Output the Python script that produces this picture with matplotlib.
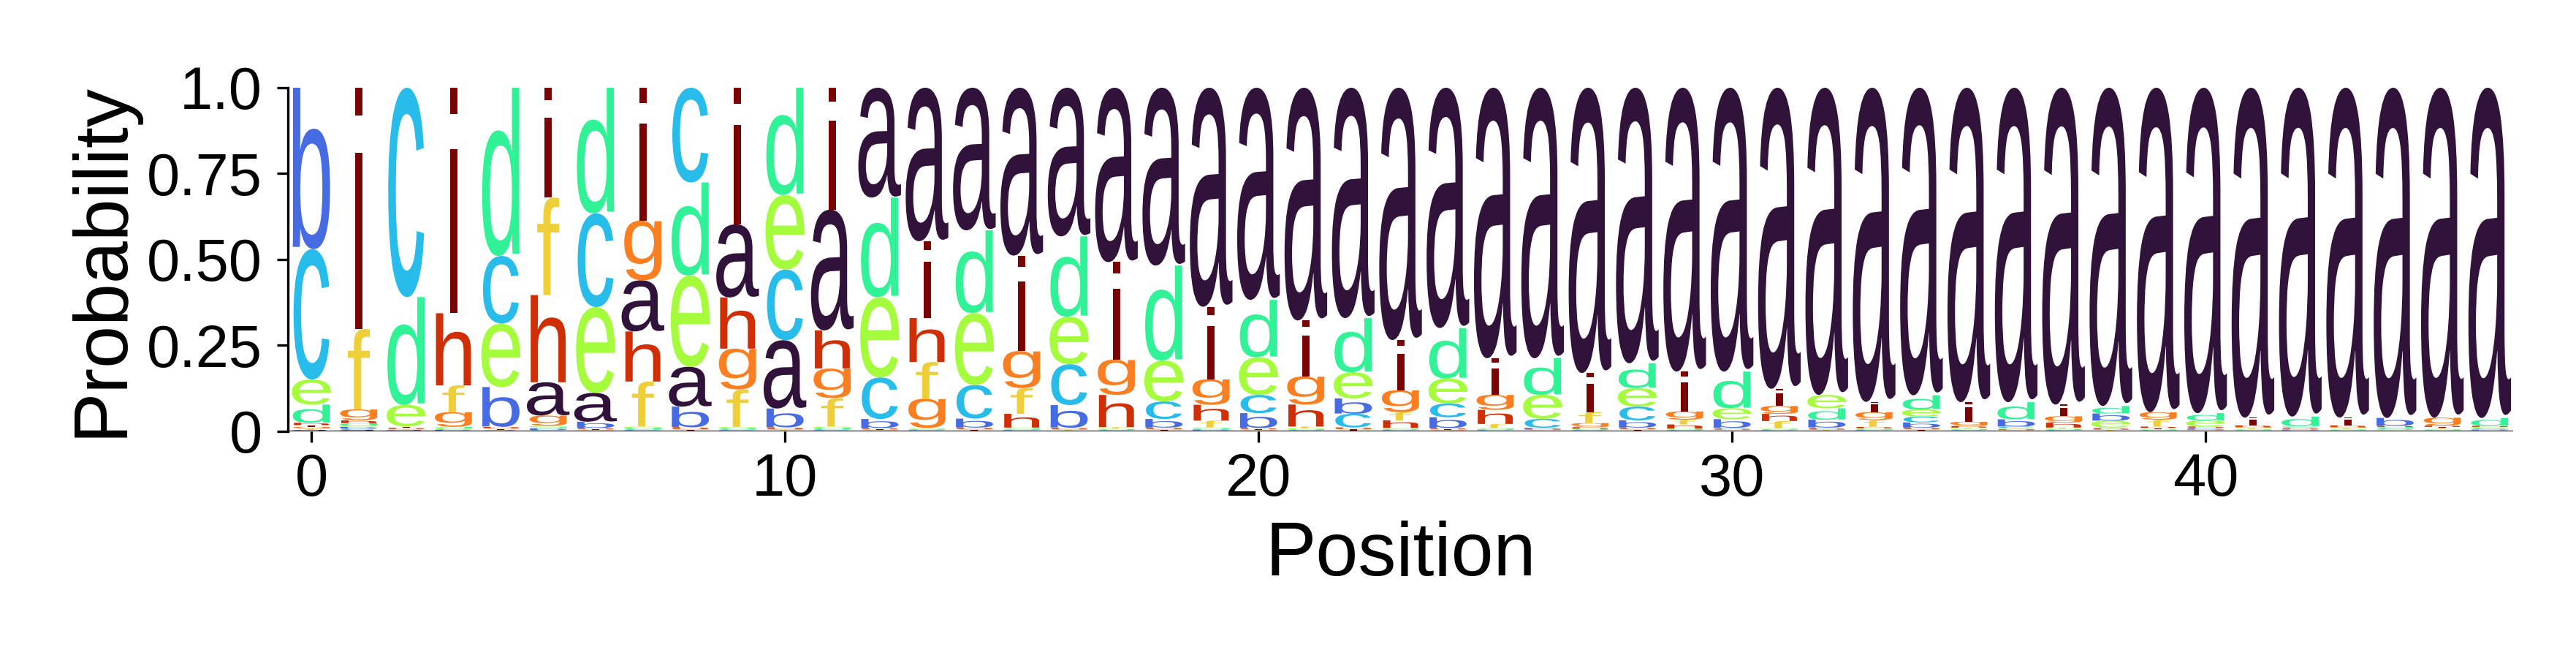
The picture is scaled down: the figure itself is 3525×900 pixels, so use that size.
import numpy as np
import matplotlib
matplotlib.use("Agg")
import matplotlib.pyplot as plt
from matplotlib.textpath import TextPath
from matplotlib.font_manager import FontProperties
from matplotlib.patches import PathPatch
from matplotlib.transforms import Affine2D

plt.rcParams["font.family"] = ["Liberation Sans", "DejaVu Sans"]

letters = list("abcdefghi")
positions = np.arange(47)

# probability of each letter per position
prob_a = [.003, .003, .0015, .001, .002, .097, .084, .149, .116, .213, .199, .352, .320, .447, .4155, .489,
          .433, .508, .518, .638, .618, .678, .671, .735, .700, .788, .788, .831, .8026, .827, .827, .877,
          .895, .915, .896, .916, .916, .923, .927, .945, .948, .961, .958, .961, .962, .961, .962]
prob_b = [.470, .005, .001, .002, .116, .004, .018, .002, .060, .002, .055, .002, .026, .002, .026, .002,
          .066, .001, .025, .0024, .043, .001, .0447, .002, .031, .0015, .003, .001, .021, .001, .025, .002,
          .023, .002, .015, .001, .021, .001, .021, .001, .003, .001, .002, .001, .023, .001, .002]
prob_c = [.380, .004, .610, .002, .197, .003, .273, .003, .276, .003, .206, .003, .121, .002, .098, .002,
          .119, .002, .051, .002, .053, .002, .040, .002, .040, .002, .026, .002, .040, .002, .003, .002,
          .003, .002, .017, .002, .004, .002, .003, .001, .003, .001, .003, .001, .003, .001, .003]
prob_d = [.053, .006, .314, .004, .490, .004, .366, .004, .271, .003, .3125, .004, .290, .002, .241, .003,
          .234, .002, .277, .003, .167, .002, .158, .002, .147, .003, .1065, .002, .0724, .002, .1065, .002,
          .033, .002, .041, .002, .050, .002, .022, .002, .021, .002, .028, .002, .003, .002, .023]
prob_e = [.073, .005, .0625, .003, .185, .004, .250, .004, .266, .004, .217, .004, .234, .003, .2095, .003,
          .1385, .002, .119, .003, .110, .003, .076, .003, .073, .003, .070, .002, .054, .002, .032, .002,
          .039, .002, .021, .002, .003, .002, .020, .002, .018, .002, .003, .002, .002, .002, .003]
prob_f = [.004, .234, .002, .078, .002, .284, .002, .131, .002, .109, .002, .083, .002, .107, .002, .075,
          .002, .004, .002, .020, .002, .005, .002, .024, .002, .011, .001, .032, .002, .014, .001, .021,
          .002, .020, .002, .003, .001, .003, .002, .020, .001, .003, .001, .003, .001, .003, .001]
prob_g = [.005, .032, .002, .043, .003, .030, .002, .174, .003, .119, .003, .086, .002, .085, .003, .108,
          .003, .103, .003, .0746, .002, .082, .003, .064, .002, .044, .002, .012, .003, .024, .002, .023,
          .002, .023, .003, .013, .002, .019, .002, .022, .002, .003, .002, .003, .002, .023, .002]
prob_h = [.007, .008, .003, .210, .003, .254, .003, .146, .004, .149, .004, .111, .003, .128, .003, .040,
          .003, .094, .003, .046, .003, .064, .003, .022, .003, .041, .002, .004, .003, .012, .002, .021,
          .002, .004, .003, .004, .002, .014, .002, .004, .003, .004, .002, .004, .003, .004, .003]
prob_i = [.005, .703, .004, .657, .002, .320, .002, .387, .002, .398, .0015, .355, .002, .224, .002, .278,
          .0015, .284, .002, .211, .002, .163, .0023, .146, .002, .1065, .0015, .114, .002, .116, .0015, .050,
          .001, .030, .002, .057, .001, .034, .001, .003, .001, .023, .001, .023, .001, .003, .001]

ytick_vals = [0, 0.25, 0.5, 0.75, 1.0]
ytick_labels = ["0", "0.25", "0.50", "0.75", "1.0"]
xtick_vals = [0, 10, 20, 30, 40]

probs = np.array([prob_a, prob_b, prob_c, prob_d, prob_e, prob_f, prob_g, prob_h, prob_i])
colors = plt.cm.turbo(np.linspace(0, 1, len(letters)))

fig = plt.figure(figsize=(11.75, 3), dpi=300)
ax = fig.add_axes([0.1117, 0.345, 0.864, 0.5217])

font = FontProperties(family="Liberation Sans")
GLYPH_W = 0.95
# glyphs are not stretched wider than an "E" would be
e_width = TextPath((0, 0), "E", size=1, prop=font).get_extents().width
glyph_paths = {c: TextPath((0, 0), c, size=1, prop=font) for c in letters}

for pos in positions:
    heights = probs[:, pos]
    floor = 0.0
    for k in np.argsort(heights, kind="stable"):
        h = heights[k]
        path = glyph_paths[letters[k]]
        bb = path.get_extents()
        sx = min(GLYPH_W / bb.width, GLYPH_W / e_width)
        sy = h / bb.height
        shift = (GLYPH_W - sx * bb.width) / 2
        tr = (Affine2D().translate(-bb.x0, -bb.y0).scale(sx, sy)
              .translate(pos - GLYPH_W / 2 + shift, floor))
        ax.add_patch(PathPatch(tr.transform_path(path), facecolor=colors[k],
                               edgecolor="none", lw=0))
        floor += h

ax.set_xlim(-0.5, len(positions) - 0.5)
ax.set_ylim(0, 1)
ax.axhline(0, color="black", lw=0.5, zorder=5)

for side in ["top", "right", "bottom"]:
    ax.spines[side].set_visible(False)
ax.spines["left"].set_linewidth(0.8)

ax.set_yticks(ytick_vals)
ax.set_yticklabels(ytick_labels)
ax.set_xticks(xtick_vals)
ax.tick_params(labelsize=19.5, length=3.6, width=0.8)
ax.tick_params(axis="y", pad=4.8)
ax.set_ylabel("Probability", fontsize=25, labelpad=3)
ax.set_xlabel("Position", fontsize=25, labelpad=4)

fig.savefig("out.png", dpi=300)
